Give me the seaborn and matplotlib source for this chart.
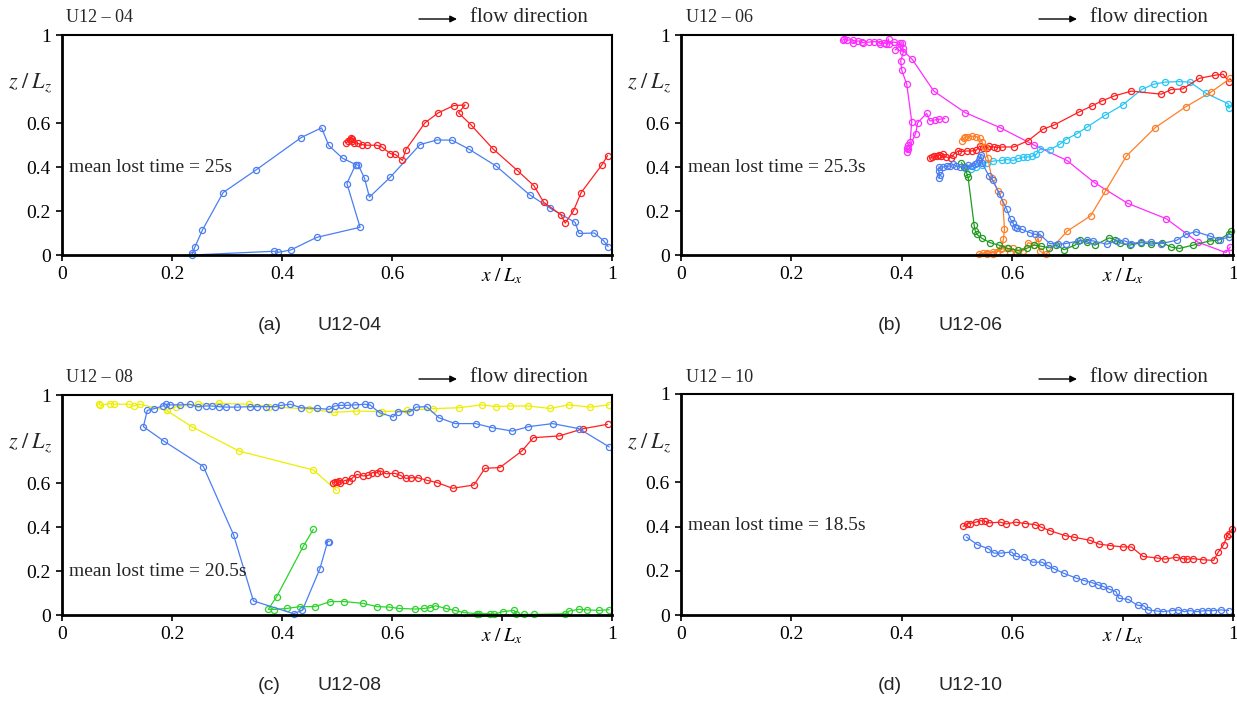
import matplotlib
matplotlib.use("Agg")
import matplotlib.pyplot as plt
import seaborn as sns

# ---- panel (a) U12-04 ----
a_blue_x = [0.534, 0.518, 0.542, 0.463, 0.416, 0.393, 0.385, 0.237, 0.237, 0.242, 0.255, 0.293, 0.353, 0.435, 0.472, 0.485, 0.510, 0.534, 0.539, 0.550, 0.559, 0.597, 0.651, 0.682, 0.709, 0.740, 0.789, 0.850, 0.888, 0.933, 0.940, 0.968, 0.985, 0.993]
a_blue_y = [0.411, 0.325, 0.126, 0.080, 0.023, 0.012, 0.017, 0.000, 0.009, 0.038, 0.112, 0.284, 0.387, 0.534, 0.578, 0.498, 0.440, 0.411, 0.407, 0.349, 0.263, 0.354, 0.502, 0.523, 0.522, 0.481, 0.405, 0.274, 0.212, 0.148, 0.098, 0.100, 0.064, 0.038]
a_red_x = [0.517, 0.520, 0.523, 0.526, 0.528, 0.527, 0.531, 0.538, 0.545, 0.554, 0.572, 0.581, 0.597, 0.606, 0.619, 0.625, 0.660, 0.684, 0.712, 0.733, 0.721, 0.743, 0.783, 0.828, 0.858, 0.876, 0.907, 0.915, 0.930, 0.944, 0.982, 0.992]
a_red_y = [0.511, 0.517, 0.523, 0.530, 0.526, 0.516, 0.511, 0.507, 0.502, 0.499, 0.499, 0.492, 0.461, 0.457, 0.430, 0.478, 0.601, 0.646, 0.679, 0.682, 0.646, 0.593, 0.484, 0.384, 0.315, 0.239, 0.183, 0.145, 0.201, 0.284, 0.411, 0.452]

# ---- panel (b) U12-06 ----
b_magenta1_x = [0.293, 0.295, 0.300, 0.311, 0.312, 0.321, 0.327, 0.329, 0.341, 0.350, 0.359, 0.360, 0.367, 0.371, 0.376, 0.377, 0.385, 0.397, 0.400, 0.402, 0.403, 0.398, 0.400, 0.409, 0.418, 0.415, 0.412, 0.409, 0.409, 0.412, 0.425, 0.429, 0.445, 0.451, 0.460, 0.468, 0.478]
b_magenta1_y = [0.976, 0.982, 0.976, 0.979, 0.965, 0.973, 0.970, 0.965, 0.968, 0.970, 0.968, 0.961, 0.965, 0.961, 0.982, 0.958, 0.968, 0.962, 0.965, 0.939, 0.924, 0.882, 0.839, 0.776, 0.606, 0.514, 0.500, 0.488, 0.468, 0.480, 0.552, 0.602, 0.644, 0.609, 0.614, 0.617, 0.620]
b_magenta2_x = [0.388, 0.395, 0.419, 0.458, 0.515, 0.578, 0.640, 0.699, 0.749, 0.809, 0.879, 0.936, 0.987, 0.995]
b_magenta2_y = [0.932, 0.947, 0.889, 0.745, 0.647, 0.579, 0.499, 0.430, 0.329, 0.235, 0.165, 0.059, 0.011, 0.036]
b_red_x = [0.451, 0.454, 0.458, 0.463, 0.468, 0.471, 0.475, 0.480, 0.490, 0.493, 0.502, 0.508, 0.519, 0.527, 0.535, 0.541, 0.548, 0.554, 0.558, 0.567, 0.572, 0.581, 0.603, 0.629, 0.655, 0.676, 0.721, 0.744, 0.762, 0.785, 0.816, 0.870, 0.888, 0.909, 0.939, 0.967, 0.982, 0.993]
b_red_y = [0.439, 0.445, 0.450, 0.452, 0.455, 0.450, 0.458, 0.445, 0.442, 0.455, 0.473, 0.470, 0.473, 0.473, 0.476, 0.495, 0.488, 0.488, 0.494, 0.491, 0.488, 0.491, 0.491, 0.520, 0.571, 0.591, 0.650, 0.677, 0.700, 0.723, 0.745, 0.731, 0.752, 0.755, 0.803, 0.817, 0.822, 0.787]
b_cyan_x = [0.515, 0.525, 0.535, 0.545, 0.554, 0.566, 0.581, 0.590, 0.602, 0.611, 0.619, 0.626, 0.635, 0.644, 0.650, 0.668, 0.686, 0.697, 0.717, 0.736, 0.768, 0.800, 0.835, 0.856, 0.877, 0.902, 0.922, 0.951, 0.991, 0.993]
b_cyan_y = [0.395, 0.390, 0.400, 0.410, 0.420, 0.427, 0.430, 0.434, 0.430, 0.439, 0.445, 0.445, 0.448, 0.458, 0.480, 0.478, 0.503, 0.525, 0.551, 0.582, 0.635, 0.682, 0.753, 0.776, 0.786, 0.788, 0.786, 0.735, 0.688, 0.666]
b_orange_x = [0.509, 0.512, 0.515, 0.520, 0.527, 0.535, 0.541, 0.545, 0.550, 0.556, 0.563, 0.575, 0.583, 0.586, 0.584, 0.581, 0.573, 0.566, 0.554, 0.548, 0.539, 0.554, 0.566, 0.579, 0.590, 0.596, 0.602, 0.608, 0.620, 0.629, 0.640, 0.647, 0.650, 0.661, 0.700, 0.742, 0.769, 0.807, 0.859, 0.914, 0.961, 0.995]
b_orange_y = [0.520, 0.530, 0.538, 0.535, 0.540, 0.538, 0.530, 0.515, 0.490, 0.440, 0.348, 0.290, 0.241, 0.117, 0.071, 0.030, 0.014, 0.003, 0.003, 0.010, 0.003, 0.008, 0.012, 0.026, 0.030, 0.015, 0.030, 0.011, 0.020, 0.056, 0.045, 0.077, 0.018, 0.003, 0.109, 0.178, 0.291, 0.450, 0.579, 0.673, 0.742, 0.803]
b_blue_x = [0.468, 0.469, 0.467, 0.467, 0.475, 0.481, 0.487, 0.493, 0.499, 0.505, 0.514, 0.520, 0.527, 0.533, 0.536, 0.539, 0.542, 0.543, 0.545, 0.558, 0.565, 0.577, 0.590, 0.597, 0.601, 0.605, 0.608, 0.617, 0.632, 0.641, 0.650, 0.668, 0.683, 0.697, 0.720, 0.735, 0.747, 0.771, 0.789, 0.804, 0.816, 0.834, 0.852, 0.870, 0.898, 0.915, 0.933, 0.958, 0.976, 0.993]
b_blue_y = [0.348, 0.363, 0.380, 0.400, 0.400, 0.404, 0.404, 0.412, 0.404, 0.400, 0.400, 0.407, 0.404, 0.412, 0.420, 0.430, 0.445, 0.453, 0.420, 0.359, 0.339, 0.276, 0.208, 0.162, 0.147, 0.127, 0.121, 0.117, 0.102, 0.094, 0.094, 0.052, 0.049, 0.052, 0.064, 0.067, 0.064, 0.049, 0.064, 0.064, 0.052, 0.059, 0.059, 0.052, 0.067, 0.094, 0.106, 0.086, 0.070, 0.082]
b_green_x = [0.508, 0.513, 0.518, 0.520, 0.531, 0.533, 0.536, 0.545, 0.560, 0.576, 0.592, 0.611, 0.626, 0.640, 0.652, 0.666, 0.680, 0.694, 0.714, 0.723, 0.736, 0.750, 0.776, 0.786, 0.795, 0.813, 0.834, 0.852, 0.872, 0.888, 0.903, 0.928, 0.958, 0.973, 0.993, 0.996]
b_green_y = [0.420, 0.400, 0.370, 0.355, 0.136, 0.110, 0.094, 0.076, 0.056, 0.045, 0.030, 0.021, 0.030, 0.045, 0.040, 0.033, 0.045, 0.024, 0.045, 0.067, 0.060, 0.045, 0.078, 0.070, 0.056, 0.045, 0.056, 0.050, 0.056, 0.036, 0.030, 0.045, 0.064, 0.067, 0.097, 0.109]

# ---- panel (c) U12-08 ----
c_yellow1_x = [0.068, 0.069, 0.087, 0.095, 0.122, 0.130, 0.142, 0.190, 0.236, 0.322, 0.457, 0.499]
c_yellow1_y = [0.961, 0.953, 0.961, 0.958, 0.958, 0.950, 0.958, 0.930, 0.856, 0.745, 0.659, 0.567]
c_yellow2_x = [0.190, 0.208, 0.248, 0.286, 0.340, 0.377, 0.449, 0.495, 0.535, 0.581, 0.627, 0.675, 0.721, 0.763, 0.789, 0.814, 0.848, 0.887, 0.921, 0.960, 0.995]
c_yellow2_y = [0.930, 0.947, 0.958, 0.962, 0.958, 0.947, 0.936, 0.921, 0.927, 0.924, 0.930, 0.938, 0.942, 0.955, 0.947, 0.950, 0.950, 0.939, 0.955, 0.945, 0.955]
c_blue_x = [0.486, 0.483, 0.469, 0.437, 0.421, 0.348, 0.312, 0.257, 0.186, 0.148, 0.155, 0.168, 0.183, 0.189, 0.196, 0.215, 0.232, 0.247, 0.261, 0.273, 0.285, 0.299, 0.319, 0.342, 0.355, 0.370, 0.387, 0.399, 0.415, 0.435, 0.463, 0.486, 0.496, 0.507, 0.519, 0.533, 0.551, 0.560, 0.577, 0.602, 0.610, 0.633, 0.644, 0.663, 0.685, 0.715, 0.752, 0.781, 0.819, 0.848, 0.892, 0.940, 0.995]
c_blue_y = [0.334, 0.334, 0.211, 0.021, 0.006, 0.064, 0.364, 0.675, 0.789, 0.856, 0.930, 0.938, 0.950, 0.958, 0.955, 0.955, 0.958, 0.947, 0.950, 0.950, 0.947, 0.945, 0.945, 0.947, 0.947, 0.947, 0.947, 0.953, 0.958, 0.942, 0.939, 0.935, 0.950, 0.953, 0.953, 0.955, 0.958, 0.955, 0.920, 0.900, 0.924, 0.924, 0.945, 0.947, 0.897, 0.870, 0.870, 0.852, 0.836, 0.856, 0.870, 0.847, 0.764]
c_red_x = [0.493, 0.497, 0.500, 0.503, 0.505, 0.515, 0.521, 0.527, 0.536, 0.548, 0.557, 0.564, 0.572, 0.579, 0.589, 0.605, 0.615, 0.625, 0.634, 0.647, 0.664, 0.682, 0.710, 0.749, 0.769, 0.796, 0.836, 0.857, 0.904, 0.948, 0.992]
c_red_y = [0.601, 0.605, 0.603, 0.607, 0.602, 0.612, 0.609, 0.621, 0.639, 0.632, 0.635, 0.647, 0.647, 0.655, 0.642, 0.644, 0.635, 0.621, 0.624, 0.624, 0.612, 0.602, 0.576, 0.591, 0.667, 0.670, 0.745, 0.806, 0.814, 0.847, 0.867]
c_green_x = [0.457, 0.439, 0.390, 0.375, 0.385, 0.409, 0.433, 0.460, 0.488, 0.513, 0.547, 0.573, 0.595, 0.612, 0.642, 0.659, 0.669, 0.679, 0.698, 0.714, 0.731, 0.754, 0.759, 0.778, 0.785, 0.801, 0.822, 0.826, 0.840, 0.858, 0.915, 0.922, 0.940, 0.955, 0.976, 0.995]
c_green_y = [0.389, 0.314, 0.082, 0.026, 0.025, 0.030, 0.038, 0.038, 0.061, 0.061, 0.053, 0.038, 0.036, 0.030, 0.027, 0.030, 0.033, 0.042, 0.030, 0.021, 0.011, 0.006, 0.006, 0.006, 0.003, 0.015, 0.021, 0.003, 0.003, 0.003, 0.006, 0.018, 0.026, 0.023, 0.021, 0.024]

# ---- panel (d) U12-10 ----
d_red_x = [0.511, 0.519, 0.523, 0.534, 0.543, 0.551, 0.558, 0.579, 0.589, 0.606, 0.624, 0.641, 0.653, 0.668, 0.696, 0.712, 0.741, 0.757, 0.778, 0.800, 0.816, 0.837, 0.863, 0.877, 0.896, 0.909, 0.917, 0.928, 0.945, 0.965, 0.973, 0.983, 0.989, 0.993, 0.998]
d_red_y = [0.401, 0.414, 0.414, 0.420, 0.427, 0.424, 0.417, 0.420, 0.412, 0.420, 0.414, 0.409, 0.397, 0.382, 0.359, 0.352, 0.338, 0.321, 0.314, 0.308, 0.308, 0.265, 0.258, 0.253, 0.261, 0.255, 0.253, 0.255, 0.250, 0.247, 0.283, 0.318, 0.356, 0.367, 0.389]
d_blue_x = [0.517, 0.537, 0.557, 0.567, 0.579, 0.599, 0.607, 0.622, 0.637, 0.654, 0.664, 0.676, 0.694, 0.716, 0.730, 0.744, 0.756, 0.765, 0.776, 0.788, 0.793, 0.810, 0.827, 0.839, 0.846, 0.862, 0.873, 0.889, 0.901, 0.912, 0.922, 0.934, 0.943, 0.955, 0.964, 0.979, 0.992]
d_blue_y = [0.353, 0.318, 0.300, 0.280, 0.280, 0.285, 0.265, 0.262, 0.239, 0.239, 0.224, 0.209, 0.188, 0.167, 0.156, 0.147, 0.136, 0.129, 0.117, 0.106, 0.076, 0.071, 0.044, 0.041, 0.023, 0.018, 0.015, 0.020, 0.023, 0.015, 0.020, 0.015, 0.018, 0.020, 0.020, 0.023, 0.020]

mean_times = ["25s", "25.3s", "20.5s", "18.5s"]
case_names = ["U12-04", "U12-06", "U12-08", "U12-10"]

BLUE = "#4a7ef2"
RED = "#ff1f1f"
MAGENTA = "#ff2cff"
CYAN = "#29c6f5"
ORANGE = "#ff7f27"
GREEN_B = "#1f9a1f"
GREEN_C = "#2ad42a"
YELLOW = "#eeee00"

sns.set_style("ticks")
plt.rcParams["font.family"] = ["Liberation Serif", "DejaVu Serif"]
plt.rcParams["mathtext.fontset"] = "stix"

W, H = 1237, 701
fig = plt.figure(figsize=(W / 100, H / 100), dpi=100)


def rect(l, t, r, b):
    return [l / W, 1 - b / H, (r - l) / W, (b - t) / H]


def fpos(x, y):
    return x / W, 1 - y / H


panels = [
    dict(rect=rect(62, 35, 612, 255), off=(0, 0), mean_y=0.40,
         tracks=[(a_blue_x, a_blue_y, BLUE), (a_red_x, a_red_y, RED)]),
    dict(rect=rect(681, 35, 1233, 255), off=(620, 0), mean_y=0.40,
         tracks=[(b_magenta1_x, b_magenta1_y, MAGENTA), (b_magenta2_x, b_magenta2_y, MAGENTA),
                 (b_cyan_x, b_cyan_y, CYAN), (b_red_x, b_red_y, RED),
                 (b_orange_x, b_orange_y, ORANGE), (b_green_x, b_green_y, GREEN_B),
                 (b_blue_x, b_blue_y, BLUE)]),
    dict(rect=rect(62, 395, 612, 615), off=(0, 360), mean_y=0.20,
         tracks=[(c_yellow1_x, c_yellow1_y, YELLOW), (c_yellow2_x, c_yellow2_y, YELLOW),
                 (c_red_x, c_red_y, RED), (c_green_x, c_green_y, GREEN_C),
                 (c_blue_x, c_blue_y, BLUE)]),
    dict(rect=rect(681, 394, 1233, 615), off=(620, 360), mean_y=0.405,
         tracks=[(d_red_x, d_red_y, RED), (d_blue_x, d_blue_y, BLUE)]),
]

letters = ["(a)", "(b)", "(c)", "(d)"]

for i, p in enumerate(panels):
    ax = fig.add_axes(p["rect"])
    for xs, ys, col in p["tracks"]:
        sns.lineplot(x=xs, y=ys, sort=False, estimator=None, ax=ax, color=col,
                     linewidth=0.9, marker="o", markersize=4.4,
                     markerfacecolor="none", markeredgecolor=col,
                     markeredgewidth=0.9, clip_on=False)

    ax.set_xlim(0, 1)
    ax.set_ylim(0, 1)
    ax.set_xticks([0, 0.2, 0.4, 0.6, 0.8, 1])
    ax.set_xticklabels(["0", "0.2", "0.4", "0.6", r"$x\;/\;L_x$", "1"])
    ax.set_yticks([0, 0.2, 0.4, 0.6, 1])
    ax.set_yticklabels(["0", "0.2", "0.4", "0.6", "1"])
    ax.tick_params(direction="out", length=4, width=1.2, labelsize=14, pad=4, colors="black")
    for side in ["left", "bottom"]:
        ax.spines[side].set_linewidth(2.0)
    for side in ["top", "right"]:
        ax.spines[side].set_linewidth(1.5)
    for s in ax.spines.values():
        s.set_color("black")
        s.set_visible(True)
    ax.set_xlabel("")
    ax.set_ylabel("")

    ax.text(-0.058, 0.78, r"$z\;/\;L_z$", ha="center", va="center", fontsize=16)
    ax.text(0.012, p["mean_y"], "mean lost time = " + mean_times[i],
            ha="left", va="center", fontsize=14)

    ox, oy = p["off"]
    title = "U12 \u2013 " + case_names[i].split("-")[1]
    fig.text(*fpos(ox + 66, oy + 18), title, ha="left", va="center", fontsize=13)
    fig.text(*fpos(ox + 470, oy + 17), "flow direction", ha="left", va="center", fontsize=15)
    ax.annotate("", xy=fpos(ox + 457, oy + 19), xytext=fpos(ox + 419, oy + 19),
                xycoords="figure fraction", textcoords="figure fraction",
                arrowprops=dict(arrowstyle="-|>", color="black", lw=1.0,
                                mutation_scale=10, shrinkA=0, shrinkB=0))

    fig.text(*fpos(ox + 258, oy + 325), letters[i], ha="left", va="center",
             fontsize=14, family="Liberation Sans")
    fig.text(*fpos(ox + 318, oy + 325), case_names[i], ha="left", va="center",
             fontsize=14, family="Liberation Sans")

fig.savefig("out.png", dpi=100)
